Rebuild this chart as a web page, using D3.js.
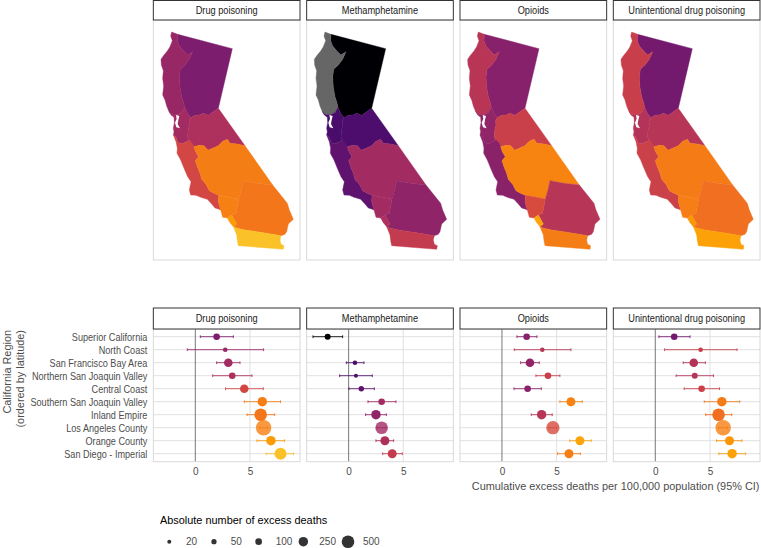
<!DOCTYPE html>
<html>
<head>
<meta charset="utf-8">
<script src="https://cdn.jsdelivr.net/npm/d3@7"></script>
<style>
  html, body { margin: 0; padding: 0; background: #fff; }
  svg { display: block; }
  svg text { font-family: "Liberation Sans", Arial, sans-serif; }
</style>
</head>
<body>
<svg id="chart" width="761" height="548"></svg>
<script>
const outcomes = ['Drug poisoning', 'Methamphetamine', 'Opioids', 'Unintentional drug poisoning'];
const regions = ['Superior California', 'North Coast', 'San Francisco Bay Area', 'Northern San Joaquin Valley',
  'Central Coast', 'Southern San Joaquin Valley', 'Inland Empire', 'Los Angeles County', 'Orange County', 'San Diego - Imperial'];

// one array per outcome, same order as regions. null = suppressed
const drugEst = [1.95, 2.74, 3.02, 3.38, 4.48, 6.13, 5.98, 6.25, 6.92, 7.8];
const drugLo = [0.46, -0.73, 1.95, 1.59, 2.77, 4.48, 4.73, 5.9, 5.64, 6.49];
const drugHi = [3.48, 6.25, 4.09, 5.18, 6.22, 7.8, 7.26, 6.6, 8.17, 8.99];
const drugDeaths = [97, 33, 197, 97, 197, 247, 500, 796, 247, 446];

const methEst = [-1.92, null, 0.58, 0.67, 1.16, 3.02, 2.5, 3.02, 3.32, 3.99];
const methLo = [-3.26, null, -0.21, -0.82, 0.03, 1.77, 1.55, 2.6, 2.5, 3.11];
const methHi = [-0.55, null, 1.4, 2.16, 2.35, 4.33, 3.45, 3.4, 4.12, 4.91];
const methDeaths = [75, null, 33, 20, 55, 97, 247, 500, 220, 220];

const opioidEst = [2.26, 3.69, 2.56, 4.21, 2.35, 6.31, 3.63, 4.66, 7.13, 6.13];
const opioidLo = [1.37, 1.13, 1.71, 3.11, 1.1, 5.3, 2.68, 4.3, 6.19, 5.09];
const opioidHi = [3.2, 6.31, 3.41, 5.3, 3.6, 7.35, 4.6, 5.0, 8.17, 7.17];
const opioidDeaths = [97, 33, 197, 97, 97, 220, 247, 570, 220, 220];

const unintEst = [1.73, 4.15, 3.52, 3.61, 4.24, 6.09, 5.79, 6.21, 6.79, 7.03];
const unintLo = [0.33, 0.85, 2.55, 1.91, 2.64, 4.48, 4.61, 5.8, 5.6, 5.82];
const unintHi = [3.18, 7.48, 4.58, 5.33, 5.88, 7.73, 7.0, 6.6, 7.94, 8.27];
const unintDeaths = [97, 33, 197, 75, 97, 247, 500, 796, 220, 247];

const sizeBreaks = [20, 50, 100, 250, 500];
const xTicks = [0, 5];

// region outlines, digitised in map units (shared borders kept once)
const coastNorth = [[65,96],[62,108],[67,122],[60,140],[52,153],[42,165],[33,178],[34,195],[40,212],[38,235],[41,258],[38,285],[45,300],[50,318],[57,335]];
const coastBay = [[57,335],[63,345],[72,352],[73,368],[70,385],[72,395],[70,405]];
const coastCentral = [[70,405],[78,425],[82,445],[81,460],[92,480],[102,505],[113,530],[123,545],[118,570],[122,585],[138,586],[152,592],[172,598],[185,612],[195,624],[205,627],[212,630]];
const borderNcSuperior = [[83,103],[82,122],[88,138],[100,152],[113,165],[128,155],[118,178],[105,195],[91,208],[88,232],[90,262],[95,290],[100,305],[104,322]];
const borderNcBay = [[104,322],[95,338],[82,344],[68,345],[57,335]];
const borderSuperiorSouth = [[205,325],[190,335],[175,346],[160,340],[148,345],[135,346],[122,353],[112,340],[104,322]];
const borderBayCentral = [[70,405],[78,412],[84,428],[96,431],[108,426],[118,420],[126,428],[132,440]];
const borderBayNsjv = [[132,440],[122,428],[113,412],[114,392],[118,375],[117,362],[122,353]];
const borderNsjvSouth = [[285,437],[262,432],[240,430],[232,418],[218,424],[205,437],[188,445],[174,451],[162,437],[148,436],[132,440]];
const borderCentralEast = [[132,440],[137,455],[146,470],[136,482],[142,500],[150,520],[155,538],[168,553],[178,572],[192,580],[206,586],[205,605],[212,630]];
const borderInlandTop = [[368,555],[322,550],[280,542],[274,570],[266,597]];
const borderLaTop = [[266,597],[230,590],[206,586]];
const borderInlandSouth = [[393,707],[350,700],[320,695],[285,690],[262,685],[250,680]];
const coastSouth = [[212,630],[218,652],[232,654]];
const bayNotch = [[78,345],[88,348],[85,360],[83,372],[90,385],[79,382],[75,368],[80,356]];

// same order as regions
const outlines = [
  [[83,103],[247,146],...borderSuperiorSouth, ...borderNcSuperior.slice().reverse()],
  [...coastNorth, ...borderNcBay.slice().reverse(), ...borderNcSuperior.slice().reverse()],
  [...borderNcBay, ...coastBay, ...borderBayCentral, ...borderBayNsjv, [112,340]],
  [...borderSuperiorSouth.slice(0,7).reverse(), ...borderNsjvSouth, ...borderBayNsjv],
  [...coastCentral, ...borderCentralEast.slice().reverse(), ...borderBayCentral.slice().reverse()],
  [...borderNsjvSouth.slice().reverse(), ...borderInlandTop, ...borderLaTop.slice(1), ...borderCentralEast.slice(0,11).reverse()],
  [...borderInlandTop, [258,640],[245,645],[260,672],[250,680], ...borderInlandSouth.slice().reverse(),[405,703],[410,695],[415,672],[430,658],[418,630],[412,610]],
  [...borderLaTop, [205,605], ...coastSouth, [245,645],[258,640]],
  [[232,654],[245,645],[260,672],[250,680],[240,668]],
  [...borderInlandSouth.slice().reverse(),[390,720],[393,733],[402,737],[400,748],[265,737],[262,722],[260,705]]
];

const estimates = [drugEst, methEst, opioidEst, unintEst];
const lows = [drugLo, methLo, opioidLo, unintLo];
const highs = [drugHi, methHi, opioidHi, unintHi];
const deaths = [drugDeaths, methDeaths, opioidDeaths, unintDeaths];

const svg = d3.select('#chart');

const panelW = 146.67;
const panelLeft = i => 153.33 + i * 153.33;
const STRIP_MAP = [0.5, 20], PANEL_MAP = [20, 260];
const STRIP_DOT = [308, 329], PANEL_DOT = [329, 461.7];
const TEXT_SQUEEZE = 0.94;
const LABEL_SQUEEZE = 0.877;

const colour = d3.scaleSequential(d3.interpolateInferno).domain([-1.92, 9.4]);
const NA_COL = '#666666';
const radius = d3.scaleSqrt().domain([0, 500]).range([0.93, 6.3]);
const yRow = d3.scalePoint().domain(regions).range([336.7, 453.7]);

function strip(left, box, label) {
  svg.append('rect')
    .attr('x', left).attr('y', box[0]).attr('width', panelW).attr('height', box[1] - box[0])
    .attr('fill', '#fff').attr('stroke', '#333').attr('stroke-width', 1);
  svg.append('text')
    .attr('class', 'label')
    .attr('x', left + panelW / 2).attr('y', (box[0] + box[1]) / 2 + 3.7)
    .attr('text-anchor', 'middle').attr('font-size', 10.5).attr('fill', '#1a1a1a')
    .text(label);
}

function renderMaps() {
  outcomes.forEach((name, i) => {
    const left = panelLeft(i);
    const mx = d3.scaleLinear().domain([10, 450]).range([left, left + panelW]);
    const my = d3.scaleLinear().domain([60, 780]).range(PANEL_MAP);
    const line = d3.line().x(d => mx(d[0])).y(d => my(d[1])).curve(d3.curveLinearClosed);

    svg.append('rect')
      .attr('x', left).attr('y', PANEL_MAP[0]).attr('width', panelW).attr('height', PANEL_MAP[1] - PANEL_MAP[0])
      .attr('fill', '#fff').attr('stroke', '#d9d9d9').attr('stroke-width', 1);

    const fillOf = j => estimates[i][j] === null ? NA_COL : colour(estimates[i][j]);
    const state = svg.append('g');
    state.selectAll('path')
      .data(outlines)
      .enter().append('path')
      .attr('d', d => line(d))
      .attr('fill', (d, j) => fillOf(j))
      .attr('stroke', (d, j) => fillOf(j))
      .attr('stroke-width', 0.4);

    state.append('path').attr('d', line(bayNotch)).attr('fill', '#fff');
    strip(left, STRIP_MAP, name);
  });
}

function renderDots() {
  outcomes.forEach((name, i) => {
    const left = panelLeft(i);
    const x = d3.scaleLinear().domain([-3.84, 9.58]).range([left, left + panelW]);
    const g = svg.append('g');

    // grid
    g.append('g').selectAll('line').data(regions).enter().append('line')
      .attr('x1', left).attr('x2', left + panelW)
      .attr('y1', d => yRow(d)).attr('y2', d => yRow(d))
      .attr('stroke', '#dedede').attr('stroke-width', 0.9);
    g.append('line')
      .attr('x1', x(5)).attr('x2', x(5)).attr('y1', PANEL_DOT[0]).attr('y2', PANEL_DOT[1])
      .attr('stroke', '#dedede').attr('stroke-width', 0.9);
    g.append('line')
      .attr('x1', x(0)).attr('x2', x(0)).attr('y1', PANEL_DOT[0]).attr('y2', PANEL_DOT[1])
      .attr('stroke', '#555').attr('stroke-width', 0.8);
    g.append('rect')
      .attr('x', left).attr('y', PANEL_DOT[0]).attr('width', panelW).attr('height', PANEL_DOT[1] - PANEL_DOT[0])
      .attr('fill', 'none').attr('stroke', '#d9d9d9').attr('stroke-width', 1);

    const rows = regions.map((r, j) => ({
      r, est: estimates[i][j], lo: lows[i][j], hi: highs[i][j], n: deaths[i][j]
    })).filter(d => d.est !== null);

    // error bars
    g.append('g').selectAll('path').data(rows).enter().append('path')
      .attr('d', d => {
        const y = yRow(d.r);
        return `M${x(d.lo)},${y}H${x(d.hi)}M${x(d.lo)},${y - 1.4}V${y + 1.4}M${x(d.hi)},${y - 1.4}V${y + 1.4}`;
      })
      .attr('fill', 'none')
      .attr('stroke', d => colour(d.est))
      .attr('stroke-width', 1)
      .attr('opacity', 0.85);

    g.append('g').selectAll('circle').data(rows).enter().append('circle')
      .attr('cx', d => x(d.est))
      .attr('cy', d => yRow(d.r))
      .attr('r', d => radius(d.n))
      .attr('fill', d => colour(d.est))
      .attr('opacity', d => d.r === 'Los Angeles County' ? 0.8 : 1);

    const axis = d3.axisBottom(x).tickValues(xTicks).tickSize(0).tickPadding(0);
    const ax = svg.append('g').attr('transform', `translate(0,${PANEL_DOT[1] + 5})`).call(axis);
    ax.select('.domain').remove();
    ax.selectAll('text').attr('font-size', 10).attr('fill', '#4d4d4d').attr('dy', '0.85em');

    strip(left, STRIP_DOT, name);
  });

  const yAxis = d3.axisLeft(yRow).tickSize(0).tickPadding(0);
  const ay = svg.append('g').attr('transform', 'translate(147.3,0)').call(yAxis);
  ay.select('.domain').remove();
  ay.selectAll('text').attr('class', 'label').attr('font-size', 10.4).attr('fill', '#4d4d4d');
}

function renderTitles() {
  // scaled rather than textLength so the box stays inside the page
  svg.append('text')
    .attr('transform', `translate(759.5,490) scale(${TEXT_SQUEEZE},1)`)
    .attr('text-anchor', 'end')
    .attr('font-size', 11.6).attr('fill', '#4d4d4d')
    .text('Cumulative excess deaths per 100,000 population (95% CI)');

  svg.append('text')
    .attr('class', 'title')
    .attr('transform', 'translate(10.5,330) rotate(-90)')
    .attr('text-anchor', 'end')
    .attr('font-size', 11.6).attr('fill', '#4d4d4d')
    .text('California Region');
  svg.append('text')
    .attr('class', 'title')
    .attr('transform', 'translate(24,330) rotate(-90)')
    .attr('text-anchor', 'end')
    .attr('font-size', 11.6).attr('fill', '#4d4d4d')
    .text('(ordered by latitude)');
}

function renderLegend() {
  svg.append('text')
    .attr('class', 'title')
    .attr('x', 160).attr('y', 524)
    .attr('font-size', 11.6).attr('fill', '#000')
    .text('Absolute number of excess deaths');

  const legendX = d3.scalePoint().domain(sizeBreaks).range([169.3, 348]);
  const keyGap = [16.7, 16.7, 17, 16, 15];
  sizeBreaks.forEach((b, i) => {
    svg.append('circle')
      .attr('cx', legendX(b)).attr('cy', 541.7).attr('r', radius(b)).attr('fill', '#333');
    svg.append('text')
      .attr('x', legendX(b) + keyGap[i]).attr('y', 545)
      .attr('font-size', 10).attr('fill', '#4d4d4d')
      .text(b);
  });
}

renderMaps();
renderDots();
renderTitles();
renderLegend();

// the original is a bit narrower than Liberation at this height
function squeeze(selector, k) {
  svg.selectAll(selector).each(function() {
    const w = this.getComputedTextLength();
    d3.select(this).attr('textLength', w * k).attr('lengthAdjust', 'spacingAndGlyphs');
  });
}
squeeze('text.title', TEXT_SQUEEZE);
squeeze('text.label', LABEL_SQUEEZE);
</script>
</body>
</html>
